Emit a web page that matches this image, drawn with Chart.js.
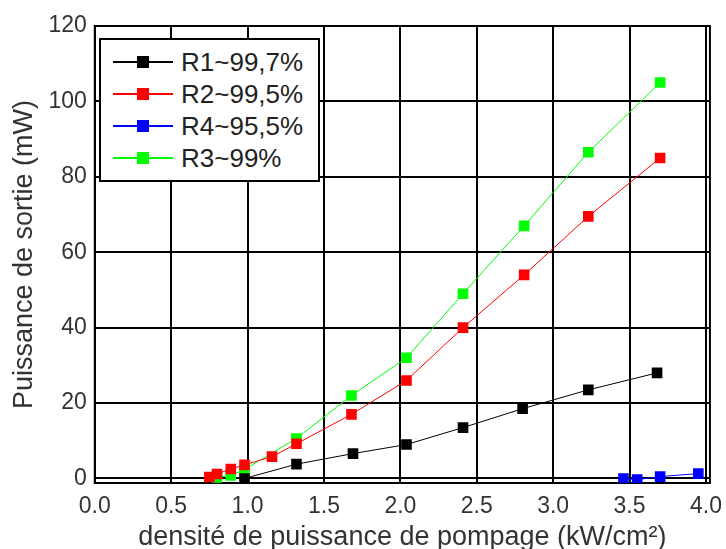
<!DOCTYPE html>
<html>
<head>
<meta charset="utf-8">
<script src="https://cdn.jsdelivr.net/npm/chart.js@4.4.1/dist/chart.umd.min.js"></script>
<style>
  html, body { margin: 0; padding: 0; background: #fff; }
  #wrap { position: relative; width: 726px; height: 549px; overflow: hidden; }
  #legend {
    position: absolute; left: 99px; top: 38px; width: 221px; height: 144px;
    box-sizing: border-box; border: 2px solid #000; background: #fff;
    font-family: "Liberation Sans", Arial, sans-serif; font-size: 26px; color: #222;
    padding-top: 6px;
  }
  .row { display: flex; align-items: center; height: 32px; }
  .sw { position: relative; width: 60px; height: 12px; margin-left: 12px; margin-right: 8px; }
  .sw .ln { position: absolute; left: 0; right: 0; top: 5px; height: 2px; }
  .sw .mk { position: absolute; left: 24px; top: 0; width: 12px; height: 12px; }
</style>
</head>
<body>
<div id="wrap">
  <canvas id="chart" width="726" height="549"></canvas>
  <div id="legend"></div>
</div>
<script>
// ─── Data ──────────────────────────────────────────────────────────────────
const r1X = [0.98, 1.32, 1.69, 2.04, 2.41, 2.80, 3.23, 3.68];
const r1Y = [0.0, 3.8, 6.6, 9.0, 13.5, 18.5, 23.5, 28.0];

const r2X = [0.75, 0.80, 0.89, 0.98, 1.16, 1.32, 1.68, 2.04, 2.41, 2.81, 3.23, 3.70];
const r2Y = [0.4, 1.2, 2.5, 3.6, 5.8, 9.2, 17.0, 26.0, 40.0, 54.0, 69.5, 85.0];

const r4X = [3.46, 3.55, 3.70, 3.95];
const r4Y = [0.0, -0.3, 0.5, 1.3];

const r3X = [0.80, 0.89, 0.98, 1.32, 1.68, 2.04, 2.41, 2.81, 3.23, 3.70];
const r3Y = [0.3, 0.8, 2.4, 10.6, 22.0, 32.0, 49.0, 67.0, 86.5, 105.0];

const seriesLabels = ['R1~99,7%', 'R2~99,5%', 'R4~95,5%', 'R3~99%'];
const seriesColors = ['#000000', '#ff0000', '#0000ff', '#00ff00'];

const xTicks = [0, 0.5, 1.0, 1.5, 2.0, 2.5, 3.0, 3.5, 4.0];
const yTicks = [0, 20, 40, 60, 80, 100, 120];

const xTitle = 'densité de puissance de pompage (kW/cm²)';
const yTitle = 'Puissance de sortie (mW)';

const FONT = '"Liberation Sans", Arial, sans-serif';

function pairs(xs, ys) {
  return xs.map(function (x, i) { return { x: x, y: ys[i] }; });
}

const allSeries = [pairs(r1X, r1Y), pairs(r2X, r2Y), pairs(r4X, r4Y), pairs(r3X, r3Y)];

// Draw order: green under red, red under black (as in the reference)
const datasets = allSeries.map(function (pts, i) {
  return {
    label: seriesLabels[i],
    data: pts,
    borderColor: seriesColors[i],
    backgroundColor: seriesColors[i],
    borderWidth: 1,
    pointStyle: 'rect',
    pointRadius: 7.5,
    pointBorderWidth: 0,
    pointHoverRadius: 7.5,
    showLine: true,
    tension: 0,
    order: [1, 2, 0, 3][i],
  };
});

// Frame around the plot area (top / right / bottom lines of the box)
const frame = {
  id: 'frame',
  beforeDatasetsDraw: function (chart) {
    const a = chart.chartArea;
    const ctx = chart.ctx;
    ctx.save();
    ctx.strokeStyle = '#000';
    ctx.lineWidth = 2;
    ctx.strokeRect(a.left, a.top, a.right - a.left, a.bottom - a.top);
    ctx.restore();
  },
};

new Chart(document.getElementById('chart'), {
  type: 'scatter',
  data: { datasets: datasets },
  plugins: [frame],
  options: {
    responsive: false,
    animation: false,
    layout: { padding: { left: 8, right: 0, top: 26, bottom: -2 } },
    plugins: {
      legend: { display: false },
      tooltip: { enabled: false },
    },
    scales: {
      x: {
        type: 'linear',
        min: 0,
        max: 4.026,
        afterBuildTicks: function (axis) {
          axis.ticks = xTicks.map(function (v) { return { value: v }; });
        },
        ticks: {
          color: '#333',
          font: { family: FONT, size: 23, lineHeight: 1 },
          padding: 4,
          maxRotation: 0,
          callback: function (v) { return Number(v).toFixed(1); },
        },
        // invisible tick marks push the labels down without widening the right padding
        grid: { color: '#000', lineWidth: 2, drawTicks: true, tickLength: 8, tickColor: 'rgba(0,0,0,0)' },
        border: { color: '#000', width: 2 },
        title: {
          display: true,
          text: xTitle,
          color: '#333',
          font: { family: FONT, size: 27, lineHeight: 1 },
          padding: { top: 2, bottom: 0 },
        },
      },
      y: {
        type: 'linear',
        min: -1.2,
        max: 120,
        afterBuildTicks: function (axis) {
          axis.ticks = yTicks.map(function (v) { return { value: v }; });
        },
        ticks: {
          color: '#333',
          font: { family: FONT, size: 23 },
          padding: 8,
        },
        grid: { color: '#000', lineWidth: 2, drawTicks: false },
        border: { color: '#000', width: 2 },
        title: {
          display: true,
          text: yTitle,
          color: '#333',
          font: { family: FONT, size: 27 },
          padding: { top: 0, bottom: 0 },
        },
      },
    },
  },
});

// ─── HTML legend inside the plot (top-left) ────────────────────────────────
const legendEl = document.getElementById('legend');
seriesLabels.forEach(function (label, i) {
  const row = document.createElement('div');
  row.className = 'row';
  row.innerHTML =
    '<div class="sw"><div class="ln" style="background:' + seriesColors[i] + '"></div>' +
    '<div class="mk" style="background:' + seriesColors[i] + '"></div></div>' +
    '<span>' + label + '</span>';
  legendEl.appendChild(row);
});
</script>
</body>
</html>
